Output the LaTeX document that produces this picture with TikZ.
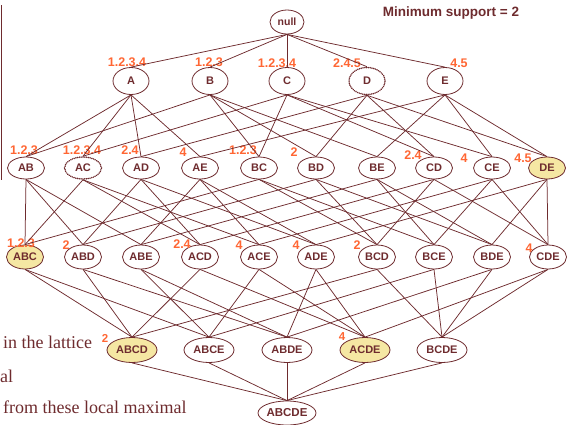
\documentclass[tikz,border=0pt]{standalone}
\usepackage{fontspec}
\setmainfont{Liberation Serif}
\setsansfont{Liberation Sans}
\usetikzlibrary{shapes.geometric}
\definecolor{maroon}{HTML}{6E2B2E}
\definecolor{tidorange}{HTML}{FF6633}
\definecolor{maxfill}{HTML}{F5E7A3}
\tikzset{
  item/.style={ellipse, draw=maroon, line width=0.8pt, inner sep=0pt,
    text=maroon, font=\sffamily\bfseries\fontsize{11}{13}\selectfont,
    minimum width=37pt, minimum height=23pt},
  single/.style={item, minimum width=36pt, minimum height=27pt},
  pair/.style={item, minimum width=37pt, minimum height=22pt},
  triple/.style={item, minimum width=37pt, minimum height=24pt},
  quad/.style={item, minimum width=50pt, minimum height=25pt},
  infreq/.style={draw=maroon, dash pattern=on 0.1pt off 1.7pt, line width=1.6pt, line cap=round},
  maxset/.style={fill=maxfill},
  tids/.style={text=tidorange, font=\sffamily\bfseries\fontsize{12.5}{14}\selectfont, inner sep=0pt},
  edge/.style={draw=maroon, line width=0.75pt},
  slide/.style={text=maroon, font=\rmfamily\fontsize{18}{20}\selectfont, inner sep=0pt, anchor=base west}
}
\begin{document}
\begin{tikzpicture}[x=1pt,y=-1pt]
\useasboundingbox (0,0) rectangle (567,424);

% side bar
\draw[maroon, line width=1.8pt] (1.5,5) -- (1.5,180);

% title
\node[text=maroon, font=\sffamily\bfseries\fontsize{13.5}{16}\selectfont, inner sep=0pt] (title) at (451,13) {Minimum support = 2};

% slide text
\node[slide] (t1) at (3,348) {in the lattice};
\node[slide] (t2) at (0,382) {al};
\node[slide] (t3) at (3,413) {from these local maximal};

% itemset lattice
\node[item, minimum width=34pt, minimum height=24pt, font=\sffamily\bfseries\fontsize{10.5}{12}\selectfont] (null) at (287,22) {null};

\node[single] (A) at (131,81) {A};
\node[single] (B) at (210,81) {B};
\node[single] (C) at (287,81) {C};
\node[single, infreq] (D) at (367,81) {D};
\node[single] (E) at (445,81) {E};

\node[pair] (AB) at (26,168) {AB};
\node[pair, infreq] (AC) at (83,168) {AC};
\node[pair] (AD) at (141,168) {AD};
\node[pair] (AE) at (200,168) {AE};
\node[pair] (BC) at (259,168) {BC};
\node[pair] (BD) at (316,168) {BD};
\node[pair] (BE) at (377,168) {BE};
\node[pair] (CD) at (434,168) {CD};
\node[pair] (CE) at (492,168) {CE};
\node[pair, maxset] (DE) at (547,168) {DE};

\node[triple, maxset] (ABC) at (25,257) {ABC};
\node[triple] (ABD) at (83,257) {ABD};
\node[triple] (ABE) at (141,257) {ABE};
\node[triple] (ACD) at (200,257) {ACD};
\node[triple] (ACE) at (259,257) {ACE};
\node[triple] (ADE) at (316,257) {ADE};
\node[triple] (BCD) at (377,257) {BCD};
\node[triple] (BCE) at (434,257) {BCE};
\node[triple] (BDE) at (492,257) {BDE};
\node[triple] (CDE) at (548,257) {CDE};

\node[quad, maxset] (ABCD) at (132,350) {ABCD};
\node[quad] (ABCE) at (209,350) {ABCE};
\node[quad] (ABDE) at (287,350) {ABDE};
\node[quad, maxset] (ACDE) at (365,350) {ACDE};
\node[quad] (BCDE) at (442,350) {BCDE};

\node[item, minimum width=58pt, minimum height=24pt, font=\sffamily\bfseries\fontsize{11.5}{13}\selectfont] (ABCDE) at (287,413) {ABCDE};

% transaction ids
\node[tids] (tA) at (127,62) {1.2.3.4};
\node[tids] (tB) at (209,62) {1.2.3};
\node[tids] (tC) at (277,63) {1.2.3.4};
\node[tids] (tD) at (347,63) {2.4.5};
\node[tids] (tE) at (459,63) {4.5};

\node[tids] (tAB) at (24,150) {1.2.3};
\node[tids] (tAC) at (82,150) {1.2.3.4};
\node[tids] (tAD) at (130,150) {2.4};
\node[tids] (tAE) at (183,152) {4};
\node[tids] (tBC) at (243,150) {1.2.3};
\node[tids] (tBD) at (294,152) {2};
\node[tids] (tCD) at (413,155) {2.4};
\node[tids] (tCE) at (464,158) {4};
\node[tids] (tDE) at (523,158) {4.5};

\node[tids] (tABC) at (21,243) {1.2.3};
\node[tids] (tABD) at (66,245) {2};
\node[tids] (tACD) at (182,244) {2.4};
\node[tids] (tACE) at (239,245) {4};
\node[tids] (tADE) at (296,245) {4};
\node[tids] (tBCD) at (357,245) {2};
\node[tids] (tCDE) at (529,248) {4};

\node[tids, font=\sffamily\bfseries\fontsize{11.5}{13}\selectfont] (tABCD) at (105,338) {2};
\node[tids, font=\sffamily\bfseries\fontsize{11.5}{13}\selectfont] (tACDE) at (342,337) {4};

% lattice edges: parent / children
\foreach \u/\vs in {null/{A,B,C,D,E},
    A/{AB,AC,AD,AE}, B/{AB,BC,BD,BE}, C/{AC,BC,CD,CE}, D/{AD,BD,CD,DE}, E/{AE,BE,CE,DE},
    AB/{ABC,ABD,ABE}, AC/{ABC,ACD,ACE}, AD/{ABD,ACD,ADE}, AE/{ABE,ACE,ADE},
    BC/{ABC,BCD,BCE}, BD/{ABD,BCD,BDE}, BE/{ABE,BCE,BDE},
    CD/{ACD,BCD,CDE}, CE/{ACE,BCE,CDE}, DE/{ADE,BDE,CDE},
    ABC/{ABCD,ABCE}, ABD/{ABCD,ABDE}, ABE/{ABCE,ABDE}, ACD/{ABCD,ACDE},
    ACE/{ABCE,ACDE}, ADE/{ABDE,ACDE}, BCD/{ABCD,BCDE}, BCE/{ABCE,BCDE},
    BDE/{ABDE,BCDE}, CDE/{ACDE,BCDE},
    ABCD/{ABCDE}, ABCE/{ABCDE}, ABDE/{ABCDE}, ACDE/{ABCDE}, BCDE/{ABCDE}}
  \foreach \v in \vs
    \draw[edge] (\u.south) -- (\v.north);
\end{tikzpicture}
\end{document}
